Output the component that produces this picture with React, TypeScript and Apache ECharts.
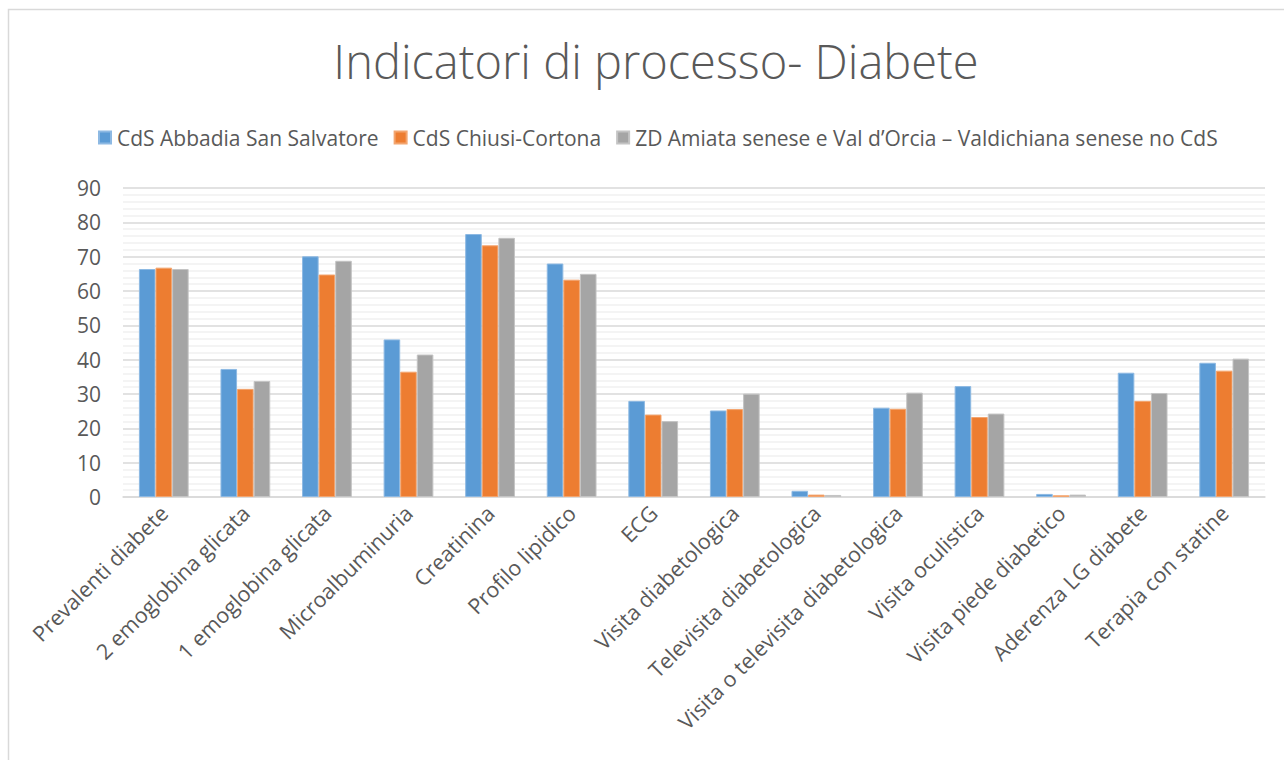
import React, { useEffect, useRef } from "react";
import * as echarts from "echarts";

const categories = [
  "Prevalenti diabete",
  "2 emoglobina glicata",
  "1 emoglobina glicata",
  "Microalbuminuria",
  "Creatinina",
  "Profilo lipidico",
  "ECG",
  "Visita diabetologica",
  "Televisita diabetologica",
  "Visita o televisita diabetologica",
  "Visita oculistica",
  "Visita piede diabetico",
  "Aderenza LG diabete",
  "Terapia con statine",
];

const seriesNames = [
  "CdS Abbadia San Salvatore",
  "CdS Chiusi-Cortona",
  "ZD Amiata senese e Val d\u2019Orcia \u2013 Valdichiana senese no CdS",
];

const abbadia = [66.4, 37.3, 70.1, 45.9, 76.6, 68.0, 28.0, 25.2, 1.8, 26.0, 32.3, 0.9, 36.2, 39.1];
const chiusi = [66.8, 31.5, 64.8, 36.5, 73.3, 63.3, 24.0, 25.6, 0.7, 25.7, 23.3, 0.5, 28.0, 36.8];
const zd = [66.4, 33.8, 68.8, 41.5, 75.5, 65.0, 22.1, 30.1, 0.6, 30.4, 24.3, 0.7, 30.3, 40.3];

const colors = ["#5B9BD5", "#ED7D31", "#A5A5A5"];
const borders = ["#8DB9E3", "#F3A56F", "#C4C4C4"];

const FONT = "'Open Sans', 'Noto Sans', sans-serif";

export default function App() {
  const ref = useRef<HTMLDivElement>(null);
  useEffect(() => {
    document.body.style.margin = "0";
    if (!ref.current) return;
    const chart = echarts.init(ref.current, undefined, { renderer: "svg" });
    const values = [abbadia, chiusi, zd];
    chart.setOption({
      animation: false,
      backgroundColor: "#ffffff",
      color: colors,
      textStyle: { fontFamily: FONT },
      graphic: [
        {
          type: "rect",
          shape: { x: 8.5, y: 9.5, width: 1320, height: 800 },
          style: { fill: "none", stroke: "#d9d9d9", lineWidth: 1.5 },
          silent: true,
          z: -10,
        },
      ],
      title: {
        text: "Indicatori di processo- Diabete",
        left: 651,
        textAlign: "center",
        top: 32,
        textStyle: {
          fontFamily: FONT,
          fontWeight: 300,
          fontSize: 47,
          color: "#595959",
        },
      },
      legend: {
        data: seriesNames,
        left: 93,
        top: 122,
        icon: "rect",
        itemWidth: 12,
        itemHeight: 12,
        itemGap: 15,
        textStyle: { fontFamily: FONT, fontSize: 21, color: "#595959", padding: [0, 0, 0, 1] },
      },
      grid: { left: 123, right: 19, top: 188, bottom: 263, containLabel: false },
      xAxis: {
        type: "category",
        data: categories,
        axisLine: { show: true, lineStyle: { color: "#d9d9d9", width: 1.5 } },
        axisTick: { show: false },
        axisLabel: {
          interval: 0,
          rotate: 45,
          margin: 12,
          fontFamily: FONT,
          fontSize: 21.5,
          color: "#595959",
        },
      },
      yAxis: {
        type: "value",
        min: 0,
        max: 90,
        interval: 10,
        axisLine: { show: false },
        axisTick: { show: false },
        axisLabel: { fontFamily: FONT, fontSize: 21, color: "#595959", margin: 22 },
        splitLine: { lineStyle: { color: "#d9d9d9", width: 1.5 } },
        minorTick: { show: false, splitNumber: 5 },
        minorSplitLine: { show: true, lineStyle: { color: "#f0f0f0", width: 1.5 } },
      },
      series: seriesNames.map((name, i) => ({
        name,
        type: "bar",
        data: values[i],
        barGap: "0%",
        barCategoryGap: "39%",
        itemStyle: { color: colors[i], borderColor: borders[i], borderWidth: 1 },
      })),
    });
    return () => chart.dispose();
  }, []);
  return <div ref={ref} style={{ width: 1284, height: 760 }} />;
}
